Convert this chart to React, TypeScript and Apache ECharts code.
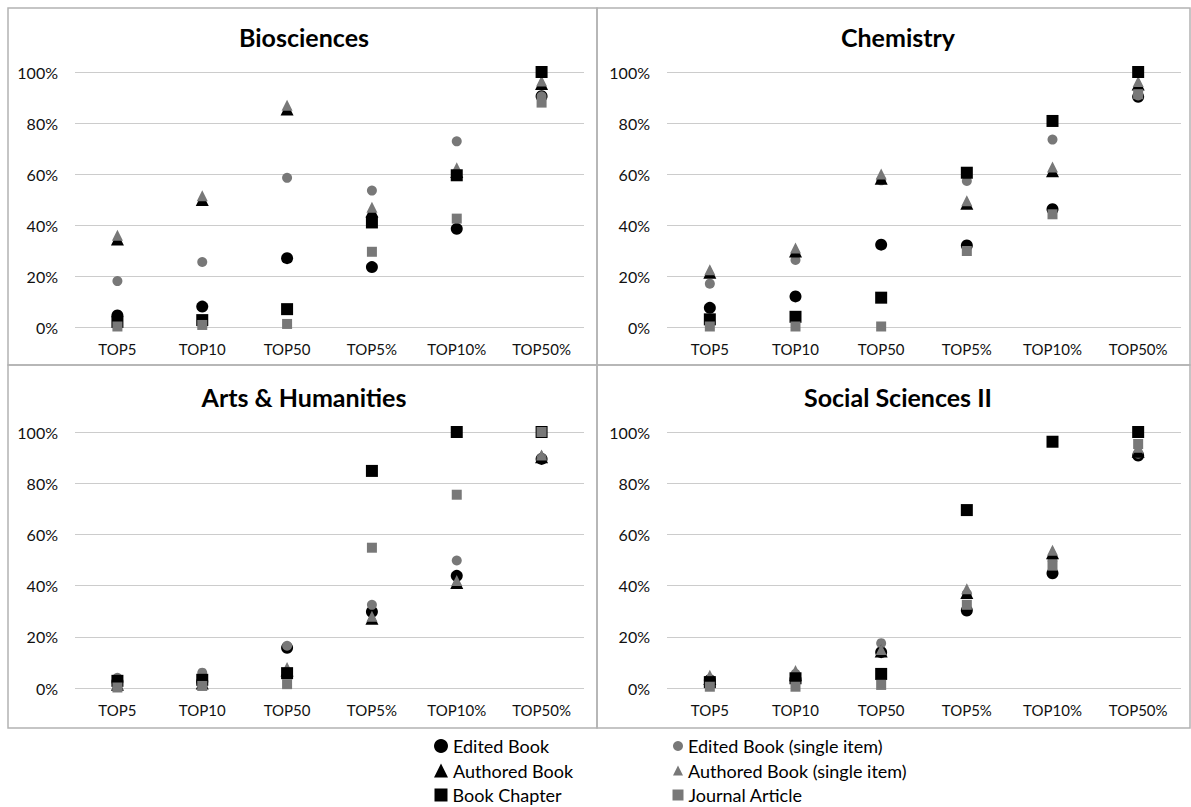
import React, { useEffect, useRef } from "react";
import * as echarts from "echarts";

const categories = ["TOP5", "TOP10", "TOP50", "TOP5%", "TOP10%", "TOP50%"];
const yTicks = [0, 20, 40, 60, 80, 100];

const seriesNames = [
  "Edited Book",
  "Edited Book (single item)",
  "Authored Book",
  "Authored Book (single item)",
  "Book Chapter",
  "Journal Article",
];

const panelTitles = ["Biosciences", "Chemistry", "Arts & Humanities", "Social Sciences II"];

// Biosciences
const bioEdited = [4.5, 8, 27, 23.5, 38.5, 90.5];
const bioEditedSingle = [18, 25.5, 58.5, 53.5, 72.8, 90.5];
const bioAuthored = [34.5, 50, 85.5, 45.5, 61, 95.5];
const bioAuthoredSingle = [36, 51.5, 87, 47, 62.5, 96.5];
const bioChapter = [2, 2.7, 7, 41, 59.5, 100];
const bioJournal = [0.2, 0.8, 1.2, 29.5, 42.5, 88];

// Chemistry
const chemEdited = [7.5, 12, 32.3, 32, 46.2, 90.3];
const chemEditedSingle = [17, 26.3, 57.5, 57.3, 73.5, 90.8];
const chemAuthored = [21.5, 29.8, 58.3, 48.5, 61.3, 95.3];
const chemAuthoredSingle = [22.5, 31, 60, 49.5, 62.7, 96.3];
const chemChapter = [3, 4, 11.5, 60.5, 80.8, 100];
const chemJournal = [0.2, 0.2, 0.2, 29.8, 44.2, 91.3];

// Arts & Humanities
const artsEdited = [2.5, 2.5, 15.7, 29.8, 43.8, 89.5];
const artsEditedSingle = [4, 6, 16.5, 32.5, 49.8, 89.8];
const artsAuthored = [1.5, 2, 7, 27.2, 41.2, 90.3];
const artsAuthoredSingle = [1.5, 2.5, 8, 28, 42, 91];
const artsChapter = [2.8, 3.2, 5.8, 84.8, 100, 100];
const artsJournal = [0.2, 0.8, 1.5, 54.8, 75.5, 100];

// Social Sciences II
const socEdited = [3, 3.5, 14, 30.3, 44.8, 90.8];
const socEditedSingle = [2.5, 5.5, 17.5, 36.8, 50, 91.5];
const socAuthored = [3.7, 5.2, 14.5, 37.3, 52.8, 92.5];
const socAuthoredSingle = [5, 6.8, 15, 38.8, 53.8, 94];
const socChapter = [2.3, 3.8, 5.5, 69.5, 96.2, 100];
const socJournal = [0.5, 0.5, 1.2, 32.5, 47.8, 95.3];

const panelData = [
  [bioEdited, bioEditedSingle, bioAuthored, bioAuthoredSingle, bioChapter, bioJournal],
  [chemEdited, chemEditedSingle, chemAuthored, chemAuthoredSingle, chemChapter, chemJournal],
  [artsEdited, artsEditedSingle, artsAuthored, artsAuthoredSingle, artsChapter, artsJournal],
  [socEdited, socEditedSingle, socAuthored, socAuthoredSingle, socChapter, socJournal],
];

const BLACK = "#000000";
const GRAY = "#787878";
const FONT = "Lato, 'Open Sans', sans-serif";

const seriesStyle = [
  { symbol: "circle", size: 12, color: BLACK, legendSize: 14 },
  { symbol: "circle", size: 10, color: GRAY, legendSize: 10 },
  { symbol: "triangle", size: 13, color: BLACK, legendSize: 14 },
  { symbol: "triangle", size: 11, color: GRAY, legendSize: 10 },
  { symbol: "rect", size: 12, color: BLACK, legendSize: 13 },
  { symbol: "rect", size: 10, color: GRAY, legendSize: 11 },
];

// legend layout: column (0 left / 1 right), row
const legendSlots = [
  { col: 0, row: 0 },
  { col: 1, row: 0 },
  { col: 0, row: 1 },
  { col: 1, row: 1 },
  { col: 0, row: 2 },
  { col: 1, row: 2 },
];

const grids = [
  { left: 75, top: 72, width: 509, height: 255 },
  { left: 667, top: 72, width: 514, height: 255 },
  { left: 75, top: 432, width: 509, height: 256 },
  { left: 667, top: 432, width: 514, height: 256 },
];

const panels = [
  { x: 8, y: 8, w: 589, h: 357, titleX: 304, titleY: 37 },
  { x: 597, y: 8, w: 593, h: 357, titleX: 898, titleY: 37 },
  { x: 8, y: 365, w: 589, h: 363, titleX: 304, titleY: 397 },
  { x: 597, y: 365, w: 593, h: 363, titleX: 898, titleY: 397 },
];

export default function App() {
  const ref = useRef<HTMLDivElement>(null);
  useEffect(() => {
    if (!ref.current) return;
    const chart = echarts.init(ref.current, undefined, { renderer: "svg" });

    const series: any[] = [];
    panelData.forEach((panel, pi) => {
      panel.forEach((vals, si) => {
        const st = seriesStyle[si];
        series.push({
          type: "scatter",
          name: seriesNames[si],
          xAxisIndex: pi,
          yAxisIndex: pi,
          symbol: st.symbol,
          symbolSize: st.size,
          itemStyle: { color: st.color, opacity: 1 },
          data: vals,
          z: 2 + si,
        });
      });
    });

    const graphic: any[] = panels.map((p) => ({
      type: "rect",
      shape: { x: p.x, y: p.y, width: p.w, height: p.h },
      style: { fill: "none", stroke: "#b3b3b3", lineWidth: 1.5 },
      silent: true,
    }));
    panelTitles.forEach((t, i) => {
      const p = panels[i];
      graphic.push({
        type: "text",
        x: p.titleX,
        y: p.titleY,
        style: {
          text: t,
          font: `bold 25px ${FONT}`,
          fill: "#000",
          textAlign: "center",
          textVerticalAlign: "middle",
        },
      });
    });

    const legends = seriesNames.map((name, si) => {
      const st = seriesStyle[si];
      const slot = legendSlots[si];
      const sz = st.legendSize;
      const centerX = slot.col === 0 ? 436 : 673;
      const centerY = 741 + slot.row * 24.5;
      return {
        orient: "horizontal",
        left: centerX - sz / 2,
        top: centerY - 9,
        itemWidth: sz,
        itemHeight: sz,
        itemGap: 0,
        textStyle: { fontSize: 18, fontFamily: FONT, color: "#000", lineHeight: 18 },
        data: [{ name, icon: st.symbol }],
        selectedMode: false,
      };
    });

    chart.setOption({
      animation: false,
      backgroundColor: "#ffffff",
      grid: grids.map((g) => ({ ...g, containLabel: false })),
      xAxis: grids.map((_, i) => ({
        type: "category",
        gridIndex: i,
        data: categories,
        boundaryGap: true,
        axisLine: { show: false },
        axisTick: { show: false },
        axisLabel: { fontSize: 15, color: "#111", fontFamily: FONT, margin: 14 },
        splitLine: { show: false },
      })),
      yAxis: grids.map((_, i) => ({
        type: "value",
        gridIndex: i,
        min: yTicks[0],
        max: yTicks[yTicks.length - 1],
        interval: 20,
        axisLine: { show: false },
        axisTick: { show: false },
        axisLabel: {
          formatter: "{value}%",
          fontSize: 16,
          color: "#111",
          fontFamily: FONT,
          margin: 17,
        },
        splitLine: { show: true, lineStyle: { color: "#cccccc", width: 1 } },
      })),
      legend: legends,
      graphic,
      series,
    });
    return () => chart.dispose();
  }, []);

  return (
    <div
      ref={ref}
      style={{ position: "absolute", left: 0, top: 0, width: 1191, height: 807, background: "#fff" }}
    />
  );
}
